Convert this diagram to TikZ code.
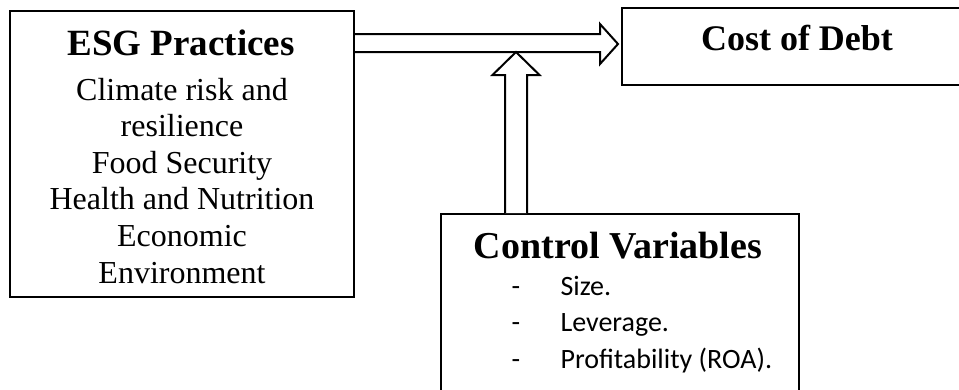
\documentclass[tikz,border=0pt]{standalone}
\usepackage{fontspec}
\setmainfont{Liberation Serif}
\newfontfamily\listfont{Carlito}
\usetikzlibrary{calc}

\begin{document}
\begin{tikzpicture}[x=1pt, y=-1pt]
    % Define colours
    \definecolor{borderColour}{HTML}{000000}
    \definecolor{fillColour}{HTML}{FFFFFF}

    % Define styles
    \tikzset{
        box/.style={draw=borderColour, line width=2pt, inner sep=0pt, anchor=north west},
        title/.style={anchor=base, font=\fontsize{36}{36}\selectfont\bfseries},
        item/.style={anchor=base, font=\fontsize{32}{32}\selectfont},
        listitem/.style={anchor=base west, font=\fontsize{28}{28}\listfont},
        blockArrow/.style={draw=borderColour, fill=fillColour, line width=2pt, line join=miter}
    }

    % Fix the page size
    \useasboundingbox (0,0) rectangle (959,389);

    % Draw the three boxes
    \node[box, minimum width=344pt, minimum height=286pt] (esg) at (9,10) {};
    \node[box, minimum width=352pt, minimum height=77pt] (debt) at (621,7) {};
    \node[box, minimum width=358pt, minimum height=190pt] (ctrl) at (440,213) {};

    % ESG practices text
    \node[title, font=\fontsize{37}{37}\selectfont\bfseries] (esgTitle) at (181,55) {ESG Practices};
    \foreach \txt [count=\i] in {Climate risk and, resilience, Food Security,
        Health and Nutrition, Economic, Environment}
        \node[item] (esgLine\i) at (182, {63.4+36.6*\i}) {\txt};

    % Cost of debt text
    \node[title] (debtTitle) at (797,50) {Cost of Debt};

    % Control variables text
    \node[title, font=\fontsize{38}{38}\selectfont\bfseries] (ctrlTitle) at (618,258) {Control Variables};
    \foreach \txt [count=\i] in {{Size.}, {Leverage.}, {Profitability (ROA).}} {
        \node[listitem] (ctrlDash\i) at (508, {258.5+36.5*\i}) {-};
        \node[listitem] (ctrlLine\i) at (557, {258.5+36.5*\i}) {\txt};
    }

    % Define arrow points
    \coordinate (hTip) at ($(debt.north west)+(-3,37)$);
    \coordinate (hBot) at ($(esg.east |- hTip)+(0,8)$);
    \coordinate (vBase) at ($(ctrl.north west)+(76,0)$);
    \coordinate (vTip) at (vBase |- hBot);

    % Draw arrow from ESG practices to cost of debt
    \draw[blockArrow] ($(esg.east |- hTip)+(0,-10)$) -- ($(hTip)+(-18,-10)$)
        -- ($(hTip)+(-18,-20)$) -- (hTip) -- ($(hTip)+(-18,20)$)
        -- ($(hTip)+(-18,8)$) -- (hBot);

    % Draw arrow from control variables
    \draw[blockArrow] ($(vBase)+(-11,0)$) -- ($(vTip)+(-11,23)$)
        -- ($(vTip)+(-23.5,23)$) -- (vTip) -- ($(vTip)+(23.5,23)$)
        -- ($(vTip)+(11,23)$) -- ($(vBase)+(11,0)$);

\end{tikzpicture}
\end{document}
